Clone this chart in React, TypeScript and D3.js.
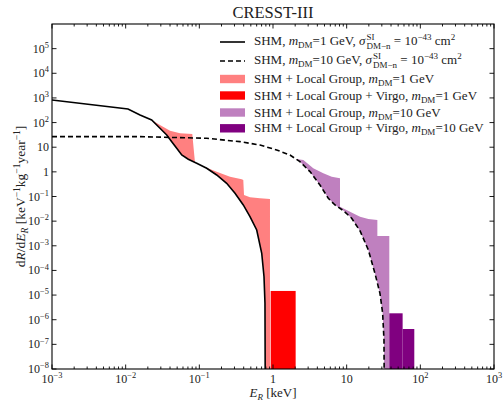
import React from 'react';
import * as d3 from 'd3';

const W = 503;
const H = 401;
const margin = { top: 24, right: 9, bottom: 32, left: 52 };
const FONT = "'Liberation Serif', 'DejaVu Serif', serif";

// SHM, m_DM = 1 GeV (solid)
const shm1E = [0.001, 0.01076, 0.01567, 0.02254, 0.02923, 0.0361, 0.0422, 0.0493, 0.0577, 0.0708, 0.0921, 0.1259, 0.172, 0.235, 0.305, 0.395, 0.487, 0.601, 0.703, 0.755, 0.778, 0.785];
const shm1R = [826, 357, 203, 128, 58.7, 31.4, 16.8, 9.06, 4.84, 3.24, 2.23, 1.40, 0.746, 0.344, 0.135, 0.0453, 0.0152, 4.38e-3, 4.96e-4, 5.57e-5, 4.78e-6, 1e-9];

// SHM, m_DM = 10 GeV (dashed)
const shm10E = [0.001, 0.0157, 0.126, 0.356, 0.666, 1.12, 1.70, 2.32, 3.18, 4.34, 5.63, 6.94, 8.99, 11.7, 15.2, 19.7, 24.2, 28.3, 30.8, 32.1, 32.4];
const shm10R = [26.8, 26.8, 23.1, 16.8, 12.3, 7.73, 4.84, 2.59, 1.02, 0.294, 0.0847, 0.0453, 0.0269, 0.0131, 3.99e-3, 6.76e-4, 7.66e-5, 1.18e-5, 1.82e-6, 1.50e-7, 1e-9];

// SHM + Local Group, 1 GeV : upper edge of band
const lg1E = [0.02254, 0.0292, 0.0400, 0.0547, 0.0802, 0.0873, 0.102, 0.172, 0.261, 0.376, 0.395, 0.404, 0.487, 0.666, 0.91, 0.91];
const lg1R = [128, 80, 46.9, 36.8, 34.5, 2.40, 1.90, 1.02, 0.637, 0.500, 0.469, 0.1153, 0.0929, 0.0847, 0.0793, 1e-9];

// SHM + Local Group + Virgo, 1 GeV : bins
const lgv1Edges = [0.93, 2.03];
const lgv1R = [1.47e-5];

// SHM + Local Group, 10 GeV : upper edge of band
const lg10E = [2.05, 2.58, 3.52, 4.82, 6.27, 8.12, 8.12, 11.1, 15.2, 19.7, 26.1, 26.1, 37.9, 37.9];
const lg10R = [3.33, 3.03, 1.40, 0.875, 0.637, 0.548, 0.0386, 0.0242, 0.0152, 0.01225, 0.01115, 2.50e-3, 2.50e-3, 1e-9];

// SHM + Local Group + Virgo, 10 GeV : bins
const lgv10Edges = [37.9, 57.5, 82.8];
const lgv10R = [1.82e-6, 4.2e-7];

const xTickExp = [-3, -2, -1, 0, 1, 2, 3];
const yTickExp = [-8, -7, -6, -5, -4, -3, -2, -1, 0, 1, 2, 3, 4, 5];

const colors = {
  lg1: '#ff8080',
  lgv1: '#ff0000',
  lg10: '#bf80bf',
  lgv10: '#800080',
};

function PowLabel({ exp, fs }: { exp: number; fs: number }) {
  if (exp === 0) return <tspan>1</tspan>;
  if (exp === 1) return <tspan>10</tspan>;
  const s = exp < 0 ? '\u2212' + Math.abs(exp) : String(exp);
  return (
    <>
      <tspan>10</tspan>
      <tspan dy={-fs * 0.4} fontSize={fs * 0.7}>{s}</tspan>
    </>
  );
}

export default function App() {
  const x = d3.scaleLog().domain([1e-3, 1e3]).range([margin.left, W - margin.right]);
  const y = d3.scaleLog().domain([1e-8, 1e6]).range([H - margin.bottom, margin.top]);
  const x0 = margin.left, x1 = W - margin.right, y0 = margin.top, y1 = H - margin.bottom;

  const line = d3.line<[number, number]>().x(d => x(d[0])).y(d => y(d[1]));
  const zip = (a: number[], b: number[]) => a.map((e, i) => [e, b[i]] as [number, number]);

  const band = (uE: number[], uR: number[], lE: number[], lR: number[]) => {
    const up = zip(uE, uR);
    const low = zip(lE, lR).filter(p => p[0] > uE[0]).reverse();
    return line([...up, ...low]) + 'Z';
  };

  const minorX: number[] = [];
  for (let k = -3; k < 3; k++) for (let m = 2; m <= 9; m++) minorX.push(m * Math.pow(10, k));

  const fsTick = 12;
  const fsLeg = 13;
  const sub = 9;

  const legRows = [42, 61, 79, 95.5, 112.5, 128.3];
  const lx0 = 220, lx1 = 245, tx = 254;

  const mDM = (val: string) => (
    <>
      <tspan fontStyle="italic">m</tspan>
      <tspan dy={3} fontSize={sub}>DM</tspan>
      <tspan dy={-3}>{val}</tspan>
    </>
  );
  const sigma = (
    <>
      <tspan fontStyle="italic">σ</tspan>
      <tspan dx={1} dy={-5} fontSize={sub}>SI</tspan>
      <tspan dx={-8} dy={9} fontSize={sub}>DM−n</tspan>
      <tspan dy={-4}> = 10</tspan>
      <tspan dy={-5} fontSize={sub}>−43</tspan>
      <tspan dy={5}> cm</tspan>
      <tspan dy={-5} fontSize={sub}>2</tspan>
    </>
  );

  return (
    <svg width={W} height={H} style={{ position: 'absolute', left: 0, top: 0, background: '#fff', fontFamily: FONT }}>
      <defs>
        <clipPath id="plot-clip">
          <rect x={x0} y={y0} width={x1 - x0} height={y1 - y0} />
        </clipPath>
      </defs>

      <g clipPath="url(#plot-clip)">
        <path d={band(lg1E, lg1R, shm1E, shm1R)} fill={colors.lg1} />
        <path d={band(lg10E, lg10R, shm10E, shm10R)} fill={colors.lg10} />
        {lgv1R.map((v, i) => (
          <rect key={'r' + i} x={x(lgv1Edges[i])} width={x(lgv1Edges[i + 1]) - x(lgv1Edges[i])} y={y(v)} height={y1 - y(v)} fill={colors.lgv1} />
        ))}
        {lgv10R.map((v, i) => (
          <rect key={'p' + i} x={x(lgv10Edges[i])} width={x(lgv10Edges[i + 1]) - x(lgv10Edges[i])} y={y(v)} height={y1 - y(v)} fill={colors.lgv10} />
        ))}
        <path d={line(zip(shm10E, shm10R)) || ''} fill="none" stroke="#000" strokeWidth={1.6} strokeDasharray="5,3" />
        <path d={line(zip(shm1E, shm1R)) || ''} fill="none" stroke="#000" strokeWidth={1.6} />
      </g>

      {/* ticks */}
      <g stroke="#000" strokeWidth={0.9}>
        {xTickExp.map(k => (
          <g key={'xt' + k}>
            <line x1={x(Math.pow(10, k))} x2={x(Math.pow(10, k))} y1={y1} y2={y1 - 4.5} />
            <line x1={x(Math.pow(10, k))} x2={x(Math.pow(10, k))} y1={y0} y2={y0 + 4.5} />
          </g>
        ))}
        {minorX.map((v, i) => (
          <g key={'xm' + i}>
            <line x1={x(v)} x2={x(v)} y1={y1} y2={y1 - 2.5} />
            <line x1={x(v)} x2={x(v)} y1={y0} y2={y0 + 2.5} />
          </g>
        ))}
        {yTickExp.map(k => (
          <g key={'yt' + k}>
            <line x1={x0} x2={x0 + 4.5} y1={y(Math.pow(10, k))} y2={y(Math.pow(10, k))} />
            <line x1={x1} x2={x1 - 4.5} y1={y(Math.pow(10, k))} y2={y(Math.pow(10, k))} />
          </g>
        ))}
      </g>

      {/* spines */}
      <rect x={x0} y={y0} width={x1 - x0} height={y1 - y0} fill="none" stroke="#000" strokeWidth={1.1} />

      {/* tick labels */}
      <g fontSize={fsTick} fill="#222">
        {xTickExp.map(k => (
          <text key={'xl' + k} x={x(Math.pow(10, k))} y={y1 + 14} textAnchor="middle">
            <PowLabel exp={k} fs={fsTick} />
          </text>
        ))}
        {yTickExp.map(k => (
          <text key={'yl' + k} x={x0 - 3} y={y(Math.pow(10, k)) + 4} textAnchor="end">
            <PowLabel exp={k} fs={fsTick} />
          </text>
        ))}
      </g>

      {/* title */}
      <text x={(x0 + x1) / 2} y={18} textAnchor="middle" fontSize={16.5} fill="#222">CRESST-III</text>

      {/* axis labels */}
      <text x={(x0 + x1) / 2} y={397} textAnchor="middle" fontSize={13} fill="#222">
        <tspan fontStyle="italic">E</tspan>
        <tspan dy={3} fontSize={9} fontStyle="italic">R</tspan>
        <tspan dy={-3}> [keV]</tspan>
      </text>
      <text transform={`translate(25,${(y0 + y1) / 2}) rotate(-90)`} textAnchor="middle" fontSize={13.5} fill="#222">
        <tspan>d</tspan>
        <tspan fontStyle="italic">R</tspan>
        <tspan>/d</tspan>
        <tspan fontStyle="italic">E</tspan>
        <tspan dy={3} fontSize={9.5} fontStyle="italic">R</tspan>
        <tspan dy={-3}> [keV</tspan>
        <tspan dy={-5} fontSize={9.5}>−1</tspan>
        <tspan dy={5}>kg</tspan>
        <tspan dy={-5} fontSize={9.5}>−1</tspan>
        <tspan dy={5}>year</tspan>
        <tspan dy={-5} fontSize={9.5}>−1</tspan>
        <tspan dy={5}>]</tspan>
      </text>

      {/* legend */}
      <g fontSize={fsLeg} fill="#222">
        <line x1={lx0} x2={lx1} y1={legRows[0]} y2={legRows[0]} stroke="#000" strokeWidth={1.6} />
        <line x1={lx0} x2={lx1} y1={legRows[1]} y2={legRows[1]} stroke="#000" strokeWidth={1.6} strokeDasharray="5,3" />
        <rect x={lx0} y={legRows[2] - 4.2} width={lx1 - lx0} height={8.4} fill={colors.lg1} />
        <rect x={lx0} y={legRows[3] - 4.2} width={lx1 - lx0} height={8.4} fill={colors.lgv1} />
        <rect x={lx0} y={legRows[4] - 4.2} width={lx1 - lx0} height={8.4} fill={colors.lg10} />
        <rect x={lx0} y={legRows[5] - 4.2} width={lx1 - lx0} height={8.4} fill={colors.lgv10} />

        <text x={tx} y={legRows[0] + 3}>
          <tspan>SHM, </tspan>{mDM('=1 GeV, ')}{sigma}
        </text>
        <text x={tx} y={legRows[1] + 3}>
          <tspan>SHM, </tspan>{mDM('=10 GeV, ')}{sigma}
        </text>
        <text x={tx} y={legRows[2] + 4}>
          <tspan>SHM + Local Group, </tspan>{mDM('=1 GeV')}
        </text>
        <text x={tx} y={legRows[3] + 4}>
          <tspan>SHM + Local Group + Virgo, </tspan>{mDM('=1 GeV')}
        </text>
        <text x={tx} y={legRows[4] + 4}>
          <tspan>SHM + Local Group, </tspan>{mDM('=10 GeV')}
        </text>
        <text x={tx} y={legRows[5] + 4}>
          <tspan>SHM + Local Group + Virgo, </tspan>{mDM('=10 GeV')}
        </text>
      </g>
    </svg>
  );
}
